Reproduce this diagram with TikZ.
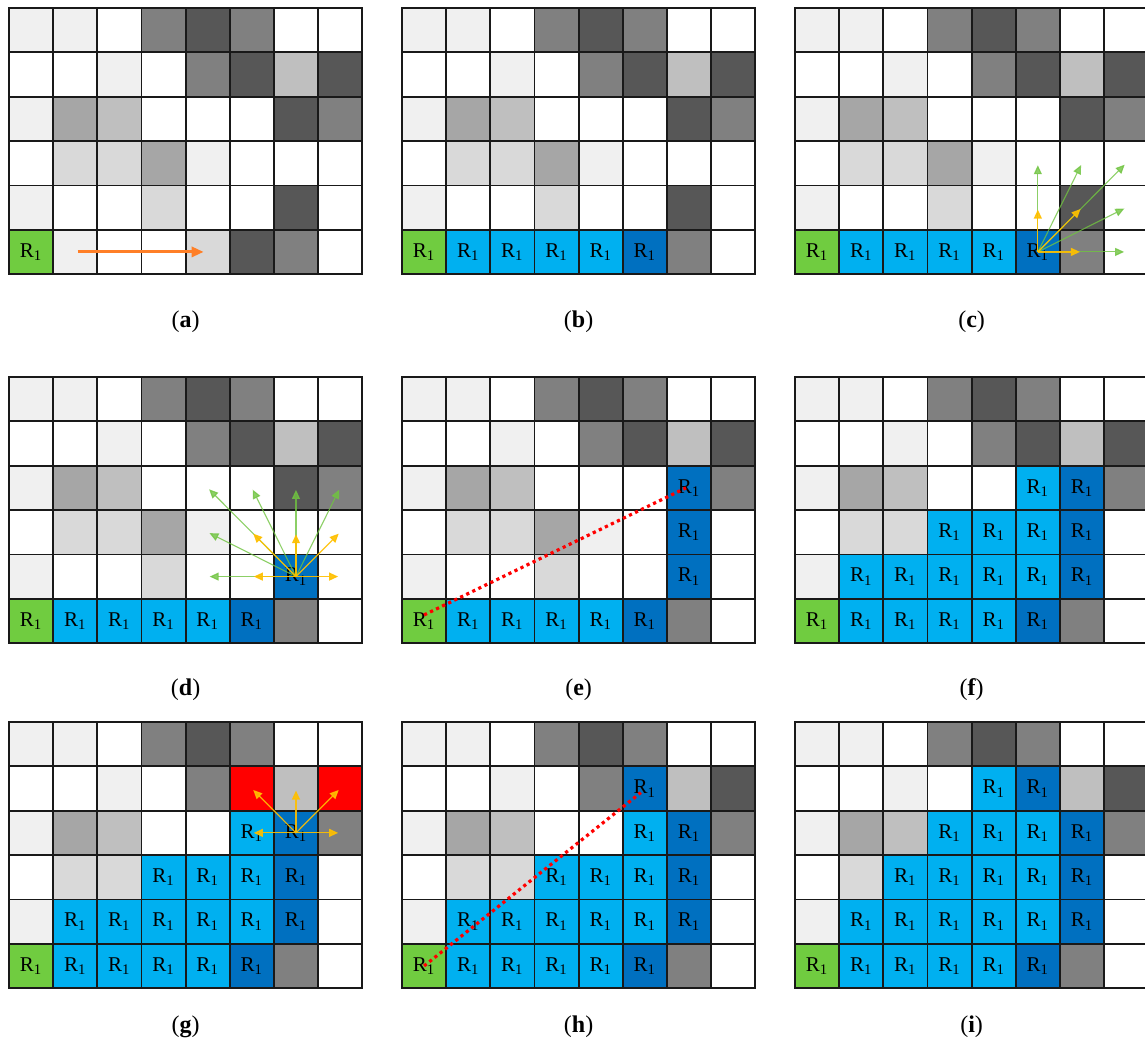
\documentclass[tikz,border=0pt]{standalone}
\usepackage{fontspec}
\setmainfont{Liberation Serif}
\usetikzlibrary{arrows.meta}
\definecolor{cW}{RGB}{255,255,255}
\definecolor{cF}{RGB}{240,240,240}
\definecolor{cL}{RGB}{217,217,217}
\definecolor{cM}{RGB}{191,191,191}
\definecolor{cA}{RGB}{166,166,166}
\definecolor{cD}{RGB}{128,128,128}
\definecolor{cK}{RGB}{87,87,87}
\definecolor{rgreen}{RGB}{112,204,64}
\definecolor{lblue}{RGB}{0,176,240}
\definecolor{dblue}{RGB}{0,112,192}
\definecolor{rred}{RGB}{255,0,0}
\definecolor{arrorange}{RGB}{255,127,39}
\definecolor{arryellow}{RGB}{255,192,0}
\definecolor{arrgreen}{RGB}{112,196,64}
\tikzset{
  cell/.style={draw=black!90, line width=0.9pt, minimum width=22.075pt, minimum height=22.175pt,
    inner sep=0pt, outer sep=0pt, font=\fontsize{10.5}{12}\selectfont},
  capt/.style={inner sep=0pt, font=\fontsize{12}{14}\selectfont},
  yarr/.style={draw=arryellow, line width=0.6pt, opacity=0.9, shorten >=1pt,
    -{Triangle[length=4.5pt,width=4pt]}},
  garr/.style={draw=arrgreen, line width=0.55pt, opacity=0.8, shorten >=1pt,
    -{Triangle[length=4.5pt,width=4pt]}},
  oarr/.style={draw=arrorange, line width=1.5pt, shorten <=1.2pt, shorten >=2pt,
    -{Triangle[length=6pt,width=5pt]}},
  rdots/.style={draw=rred, line width=1.6pt, dash pattern=on 1.6pt off 1.75pt}
}
\newcommand\setpanel[3]{\def\pn{#1}\def\X{#2}\def\Y{#3}}
\newcommand\rcells[1]{\foreach \r/\c/\col in {#1}{%
  \node[cell, fill=\col] (\pn-\r-\c) at ({\X+(\c+0.5)*44.15},{\Y+(\r+0.5)*44.35}) {R\textsubscript{1}};}}
\newcommand\ecells[1]{\foreach \r/\c/\col in {#1}{%
  \node[cell, fill=\col] (\pn-\r-\c) at ({\X+(\c+0.5)*44.15},{\Y+(\r+0.5)*44.35}) {};}}
\newcommand\basegrid{%
  \foreach \col [count=\i from 0] in {F,F,W,D,K,D,W,W,W,W,F,W,D,K,M,K,F,A,M,W,W,W,K,D,W,L,L,A,F,W,W,W,F,W,W,L,W,W,K,W,W,F,W,W,L,K,D,W}{%
    \pgfmathtruncatemacro\rr{floor(\i/8)}%
    \pgfmathtruncatemacro\cc{\i-8*\rr}%
    \node[cell, fill=c\col] (\pn-\rr-\cc) at ({\X+(\cc+0.5)*44.15},{\Y+(\rr+0.5)*44.35}) {};
  }%
  \rcells{5/0/rgreen}%
}
\newcommand\rowb{\rcells{5/1/lblue,5/2/lblue,5/3/lblue,5/4/lblue,5/5/dblue}}
\newcommand\fillf{\rowb\rcells{2/5/lblue,2/6/dblue,3/3/lblue,3/4/lblue,3/5/lblue,3/6/dblue,4/1/lblue,4/2/lblue,4/3/lblue,4/4/lblue,4/5/lblue,4/6/dblue}}
\newcommand\panelcap[2]{\node[capt] (cap-\pn) at ({\X+176.6},#2) {(\textbf{#1})};}
\begin{document}
\begin{tikzpicture}[x=0.5pt,y=-0.5pt]
\fill[white] (0,0) rectangle (1145,1044);
\useasboundingbox (0,0) rectangle (1145,1044);

% (a)
\setpanel{a}{9}{8}
\basegrid
\draw[oarr] (a-5-1.center) -- (a-5-4.center);
\panelcap{a}{322}

% (b)
\setpanel{b}{402}{8}
\basegrid\rowb
\panelcap{b}{322}

% (c)
\setpanel{c}{795}{8}
\basegrid\rowb
\foreach \t in {3-5,3-6,3-7,4-7,5-7}{\draw[garr] (c-5-5.center) -- (c-\t.center);}
\foreach \t in {4-5,4-6,5-6}{\draw[yarr] (c-5-5.center) -- (c-\t.center);}
\panelcap{c}{322}

% (d)
\setpanel{d}{9}{377}
\basegrid\rowb\rcells{4/6/dblue}
\foreach \t in {4-4,3-4,2-4,2-5,2-6,2-7}{\draw[garr] (d-4-6.center) -- (d-\t.center);}
\foreach \t in {4-5,3-5,3-6,3-7,4-7}{\draw[yarr] (d-4-6.center) -- (d-\t.center);}
\panelcap{d}{690}

% (e)
\setpanel{e}{402}{377}
\basegrid\rowb\rcells{2/6/dblue,3/6/dblue,4/6/dblue}
\draw[rdots] ([yshift=3pt]e-5-0.center) -- ([xshift=-1.5pt]e-2-6.center);
\panelcap{e}{690}

% (f)
\setpanel{f}{795}{377}
\basegrid\fillf
\panelcap{f}{690}

% (g)
\setpanel{g}{9}{722}
\basegrid\fillf\ecells{1/5/rred,1/7/rred}
\foreach \t in {2-5,1-5,1-6,1-7,2-7}{\draw[yarr] (g-2-6.center) -- (g-\t.center);}
\panelcap{g}{1027}

% (h)
\setpanel{h}{402}{722}
\basegrid\fillf\rcells{1/5/dblue}
\draw[rdots] (h-5-0.center) -- ([xshift=-2pt,yshift=-2pt]h-1-5.center);
\panelcap{h}{1027}

% (i)
\setpanel{i}{795}{722}
\basegrid\rowb
\rcells{1/4/lblue,1/5/dblue,2/3/lblue,2/4/lblue,2/5/lblue,2/6/dblue,3/2/lblue,3/3/lblue,3/4/lblue,3/5/lblue,3/6/dblue,4/1/lblue,4/2/lblue,4/3/lblue,4/4/lblue,4/5/lblue,4/6/dblue}
\panelcap{i}{1027}
\end{tikzpicture}
\end{document}
